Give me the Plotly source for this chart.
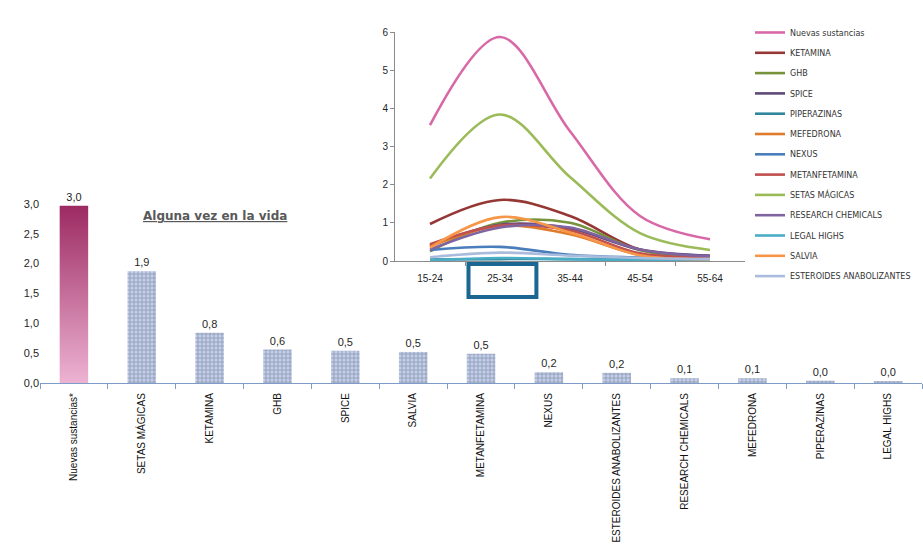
import plotly.graph_objects as go

# ---- Bar chart: "Alguna vez en la vida" ----
bar_categories = ["Nuevas sustancias*", "SETAS MÁGICAS", "KETAMINA", "GHB", "SPICE", "SALVIA",
                  "METANFETAMINA", "NEXUS", "ESTEROIDES ANABOLIZANTES", "RESEARCH CHEMICALS",
                  "MEFEDRONA", "PIPERAZINAS", "LEGAL HIGHS"]
bar_values = [2.97, 1.87, 0.84, 0.56, 0.54, 0.52, 0.49, 0.18, 0.17, 0.08, 0.08, 0.04, 0.03]
bar_ticks = [0.0, 0.5, 1.0, 1.5, 2.0, 2.5, 3.0]

# ---- Line chart by age group ----
age_groups = ["15-24", "25-34", "35-44", "45-54", "55-64"]
line_names = ["Nuevas sustancias", "KETAMINA", "GHB", "SPICE", "PIPERAZINAS", "MEFEDRONA", "NEXUS",
              "METANFETAMINA", "SETAS MÁGICAS", "RESEARCH CHEMICALS", "LEGAL HIGHS", "SALVIA",
              "ESTEROIDES ANABOLIZANTES"]
nuevas_sustancias = [3.56, 5.87, 3.40, 1.18, 0.57]
ketamina = [0.97, 1.60, 1.18, 0.30, 0.10]
ghb = [0.25, 1.00, 1.00, 0.28, 0.10]
spice = [0.40, 0.95, 0.85, 0.30, 0.14]
piperazinas = [0.04, 0.05, 0.05, 0.03, 0.02]
mefedrona = [0.38, 0.92, 0.70, 0.16, 0.06]
nexus = [0.29, 0.37, 0.16, 0.09, 0.05]
metanfetamina = [0.44, 0.93, 0.80, 0.20, 0.10]
setas_magicas = [2.16, 3.84, 2.20, 0.73, 0.29]
research_chemicals = [0.30, 0.88, 0.88, 0.30, 0.12]
legal_highs = [0.02, 0.08, 0.05, 0.02, 0.02]
salvia = [0.35, 1.15, 0.75, 0.15, 0.05]
esteroides = [0.10, 0.22, 0.14, 0.08, 0.05]
line_series = [nuevas_sustancias, ketamina, ghb, spice, piperazinas, mefedrona, nexus,
               metanfetamina, setas_magicas, research_chemicals, legal_highs, salvia, esteroides]
line_colors = ["#D868A6", "#953735", "#77933C", "#5F497A", "#31859C", "#E07B2C", "#4A7EBB",
               "#C0504D", "#9BBB59", "#8064A2", "#4BACC6", "#F79646", "#A9BCDD"]
line_ticks = [0, 1, 2, 3, 4, 5, 6]

W, H = 923, 544
BAR_W = 0.42

fig = go.Figure()

pos = list(range(len(bar_categories)))
bar_colors = ["rgba(0,0,0,0)"] + ["#C2D0EE"] * (len(bar_values) - 1)
fig.add_trace(go.Bar(
    x=pos, y=bar_values, width=BAR_W,
    marker=dict(color=bar_colors, line=dict(width=0),
                pattern=dict(shape=[""] + ["+"] * (len(bar_values) - 1),
                             fgcolor="#8EA4D6", size=4, solidity=0.3)),
    text=bar_values, texttemplate="%{y:.1f}", textposition="outside",
    textfont=dict(family="Liberation Sans", size=11, color="#1f1f1f"),
    cliponaxis=False, showlegend=False, xaxis="x", yaxis="y",
))

# gradient fill for the first bar
v0 = bar_values[0]
fig.add_trace(go.Scatter(
    x=[pos[0] - BAR_W / 2, pos[0] + BAR_W / 2, pos[0] + BAR_W / 2, pos[0] - BAR_W / 2, pos[0] - BAR_W / 2],
    y=[0, 0, v0, v0, 0], mode="lines", line=dict(width=0), fill="toself",
    fillgradient=dict(type="vertical", start=0, stop=v0,
                      colorscale=[[0, "#EDB3D3"], [1, "#9C2A62"]]),
    hoverinfo="skip", showlegend=False, xaxis="x", yaxis="y",
))

for i, (name, vals, col) in enumerate(zip(line_names, line_series, line_colors)):
    fig.add_trace(go.Scatter(
        x=list(range(len(age_groups))), y=vals, name=name, mode="lines",
        line=dict(color=col, width=2.6, shape="spline", smoothing=1.0),
        legendgroup=name, xaxis="x2", yaxis="y2",
    ))

def py(px):
    return 1 - px / H

fig.update_layout(
    width=W, height=H, margin=dict(l=0, r=0, t=0, b=0),
    paper_bgcolor="white", plot_bgcolor="rgba(0,0,0,0)",
    separators=",.",
    font=dict(family="Liberation Sans", color="#262626"),
    xaxis=dict(domain=[40 / W, 0.999], range=[-0.5, len(bar_categories) - 0.5],
               tickvals=pos, ticktext=bar_categories, tickangle=-90,
               tickfont=dict(family="Liberation Sans", size=10, color="#111111"),
               ticks="", ticklabelstandoff=5, showgrid=False, zeroline=False,
               showline=True, linecolor="#7F9BC8", linewidth=1.2,
               minor=dict(tickvals=[p - 0.5 for p in pos] + [pos[-1] + 0.5], ticks="outside",
                          ticklen=5, tickcolor="#7F9BC8", tickwidth=1, showgrid=False),
               automargin=False, fixedrange=True),
    yaxis=dict(domain=[py(383), py(383 - 3.6 * 59.7)], range=[0, 3.6],
               tickvals=bar_ticks, tickformat=".1f",
               tickfont=dict(family="Liberation Sans", size=11, color="#1f1f1f"),
               showgrid=False, zeroline=False, showline=False, ticks="",
               automargin=False, anchor="x"),
    xaxis2=dict(domain=[395 / W, 745 / W], range=[-0.5, len(age_groups) - 0.5],
                tickvals=list(range(len(age_groups))), ticktext=age_groups,
                tickfont=dict(family="Liberation Sans", size=10, color="#1f1f1f"),
                ticks="", ticklabelstandoff=8, showgrid=False, zeroline=False,
                showline=True, linecolor="#8C8C8C", linewidth=1,
                minor=dict(tickvals=[i + 0.5 for i in range(len(age_groups) - 1)], ticks="outside",
                           ticklen=4, tickcolor="#8C8C8C", showgrid=False),
                anchor="y2", automargin=False),
    yaxis2=dict(domain=[py(261), py(32)], range=[0, 6], tickvals=line_ticks,
                tickfont=dict(family="Liberation Sans", size=10, color="#1f1f1f"),
                ticks="outside", ticklen=4, tickcolor="#8C8C8C",
                showgrid=False, zeroline=False, showline=True, linecolor="#8C8C8C", linewidth=1,
                anchor="x2", automargin=False),
    legend=dict(x=750 / W, y=py(18), xanchor="left", yanchor="top",
                font=dict(family="DejaVu Sans", size=8, color="#333333"),
                tracegroupgap=1.3, itemwidth=30, bgcolor="rgba(0,0,0,0)"),
    annotations=[dict(text="<b><u>Alguna vez en la vida</u></b>", x=215 / W, y=py(216),
                      xanchor="center", yanchor="middle",
                      xref="paper", yref="paper", showarrow=False,
                      font=dict(family="DejaVu Sans", size=12, color="#595959"))],
    shapes=[dict(type="rect", xref="x2", yref="paper", x0=0.55, x1=1.52,
                 y0=py(297), y1=py(264), line=dict(color="#1B6792", width=4))],
)

fig.write_html("out.html")
